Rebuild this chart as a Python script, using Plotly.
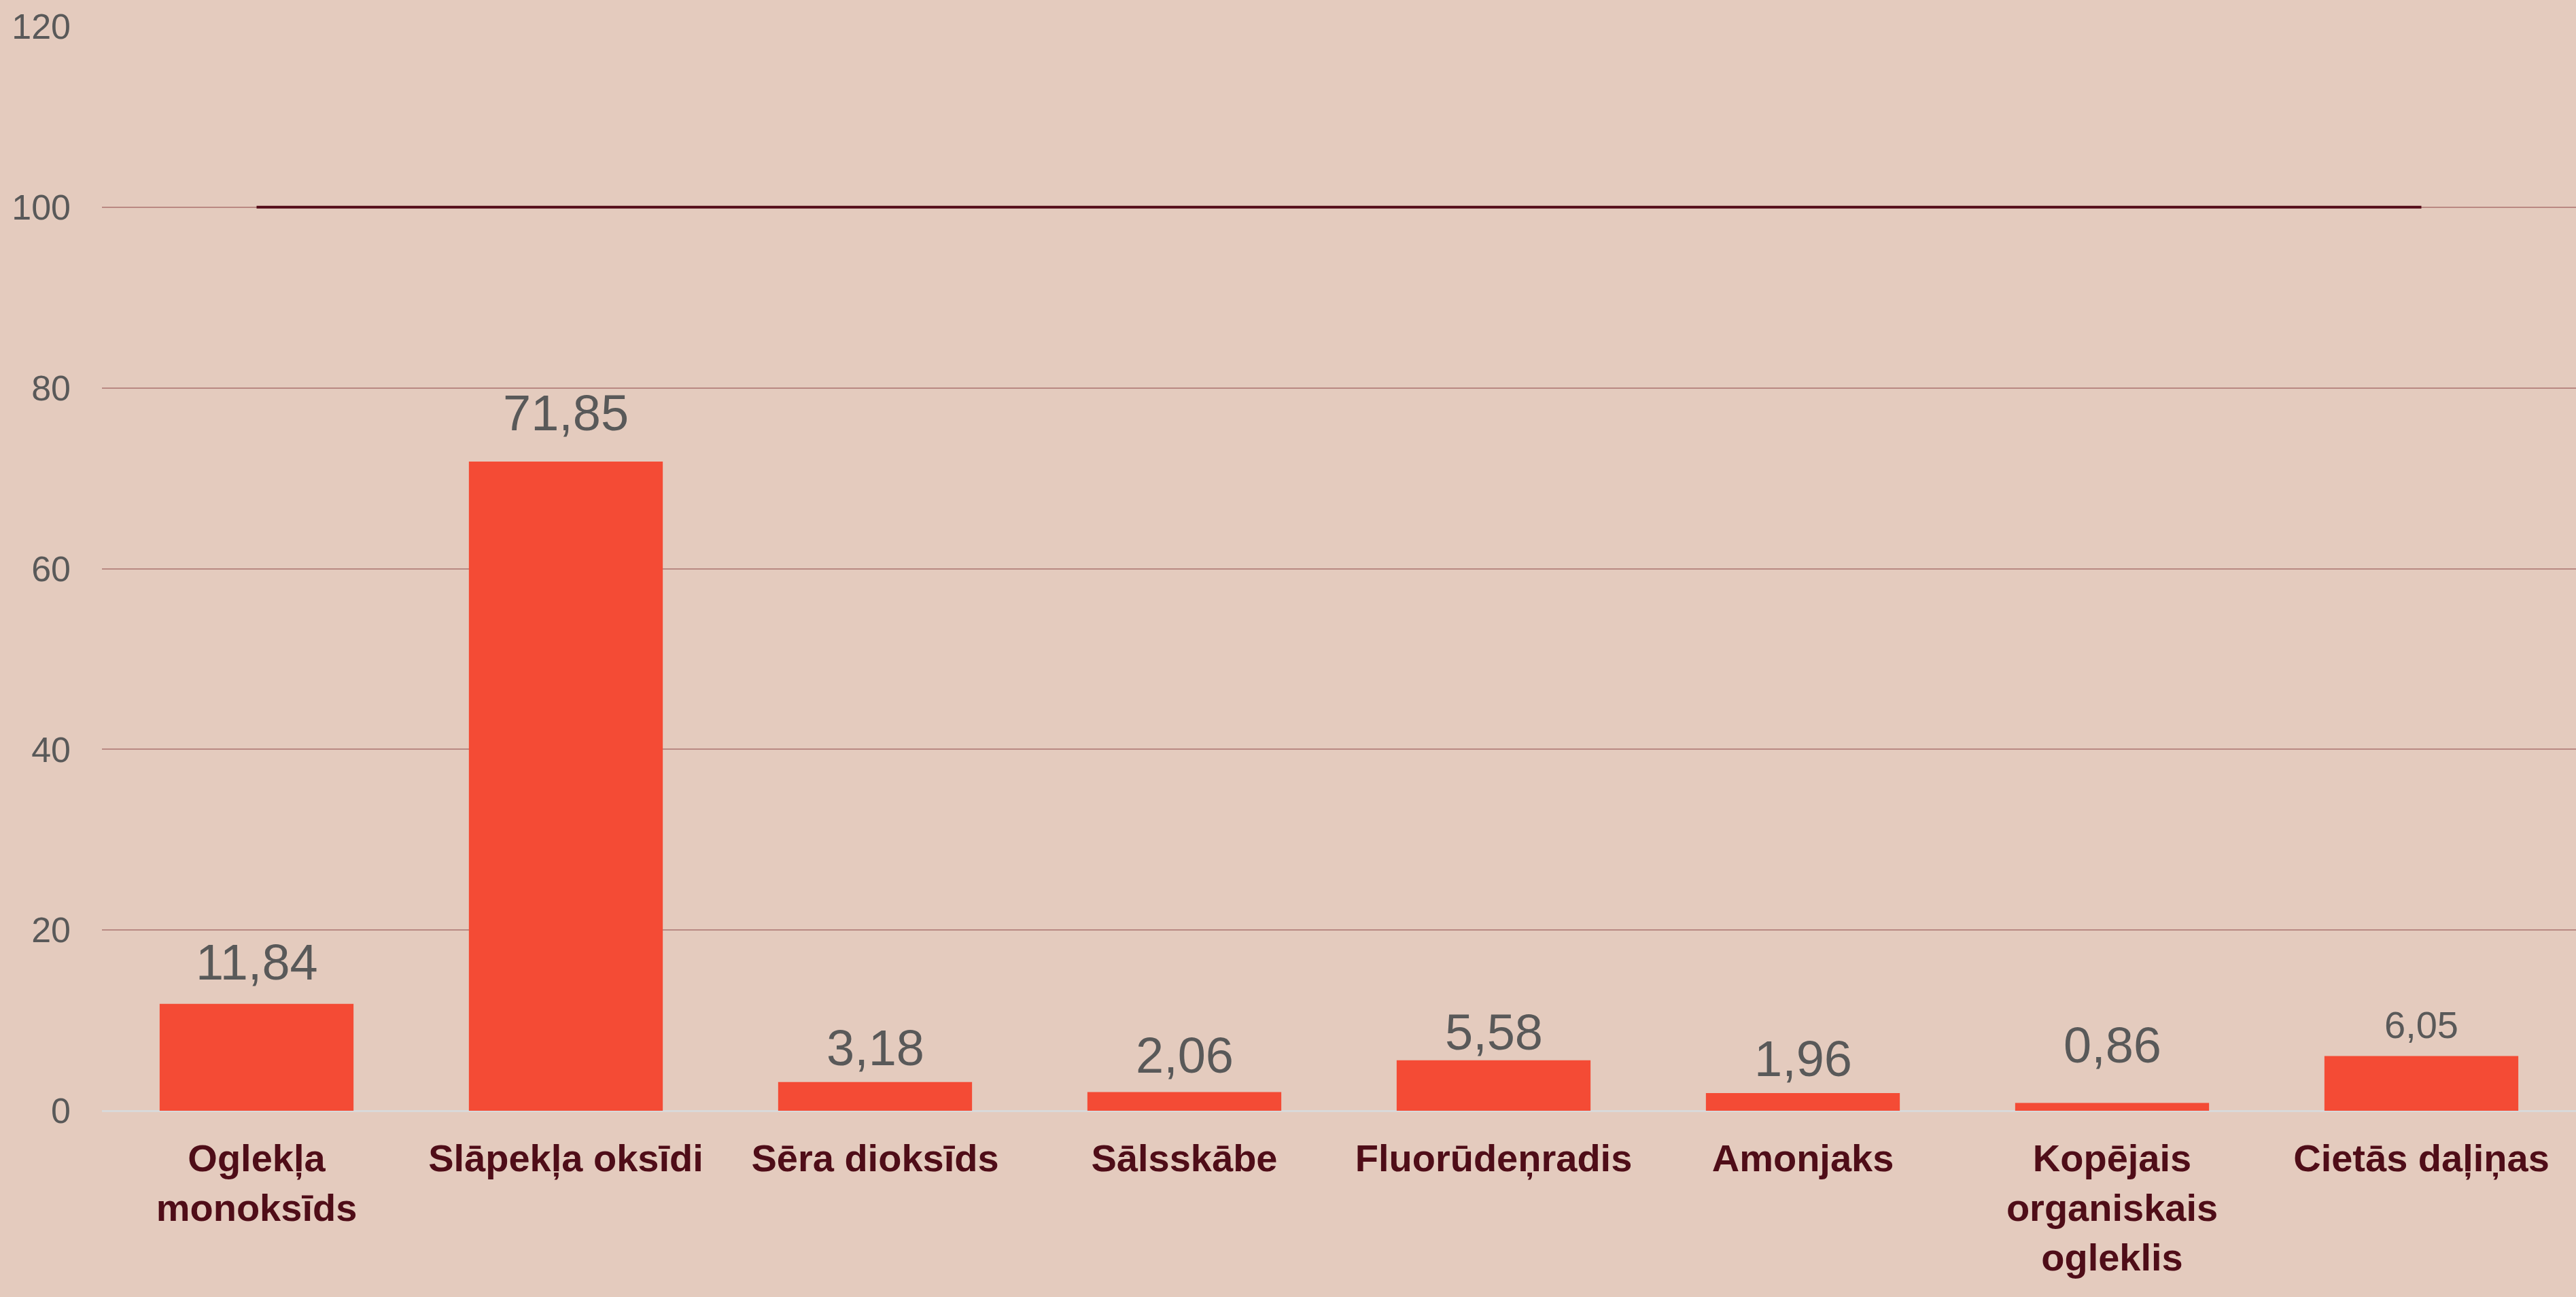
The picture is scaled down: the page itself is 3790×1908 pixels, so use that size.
import plotly.graph_objects as go

categories = ["Oglekļa<br>monoksīds", "Slāpekļa oksīdi", "Sēra dioksīds", "Sālsskābe",
              "Fluorūdeņradis", "Amonjaks", "Kopējais<br>organiskais<br>ogleklis", "Cietās daļiņas"]
values = [11.84, 71.85, 3.18, 2.06, 5.58, 1.96, 0.86, 6.05]
value_labels = ["11,84", "71,85", "3,18", "2,06", "5,58", "1,96", "0,86", "6,05"]
limit_values = [100] * len(categories)
y_ticks = [0, 20, 40, 60, 80, 100, 120]

# styling of value labels (font size, pixel gap between bar top and text baseline)
label_sizes = [74, 74, 74, 74, 74, 74, 74, 56]
label_gaps = [40, 50, 29, 33, 20, 29, 64, 30]

FONT = "Liberation Sans, Arial, sans-serif"
BG = "#E4CBBE"

fig = go.Figure()
fig.add_trace(go.Bar(
    x=categories, y=values,
    marker=dict(color="#F44B35", line=dict(width=0)),
    width=0.627, showlegend=False, hoverinfo="x+y",
))
fig.add_trace(go.Scatter(
    x=categories, y=limit_values, mode="lines",
    line=dict(color="#540C19", width=4), showlegend=False,
))

for cat, val, lab, size, gap in zip(categories, values, value_labels, label_sizes, label_gaps):
    fig.add_annotation(
        x=cat, y=val, text=lab, showarrow=False, yanchor="bottom", xanchor="center",
        yshift=gap - round(0.29 * size), borderpad=0,
        font=dict(family=FONT, size=size, color="#595959"),
    )

fig.update_layout(
    width=3790, height=1908,
    paper_bgcolor=BG, plot_bgcolor=BG,
    margin=dict(l=150, r=0, t=39, b=274),
    xaxis=dict(
        tickfont=dict(family=FONT, size=56, color="#4F0D18", weight="bold"),
        showgrid=False, ticks="", showline=False, ticklabelstandoff=32,
    ),
    yaxis=dict(
        range=[0, 120], tickvals=y_ticks, showgrid=True, gridcolor="#B98983", gridwidth=2,
        zeroline=True, zerolinecolor="#D9D9D9", zerolinewidth=3,
        tickfont=dict(family=FONT, size=52, color="#595959"),
        ticks="", ticklabelstandoff=45,
    ),
)

fig.write_html("out.html", config={"displayModeBar": False},
               post_script="document.body.style.margin='0px';")
